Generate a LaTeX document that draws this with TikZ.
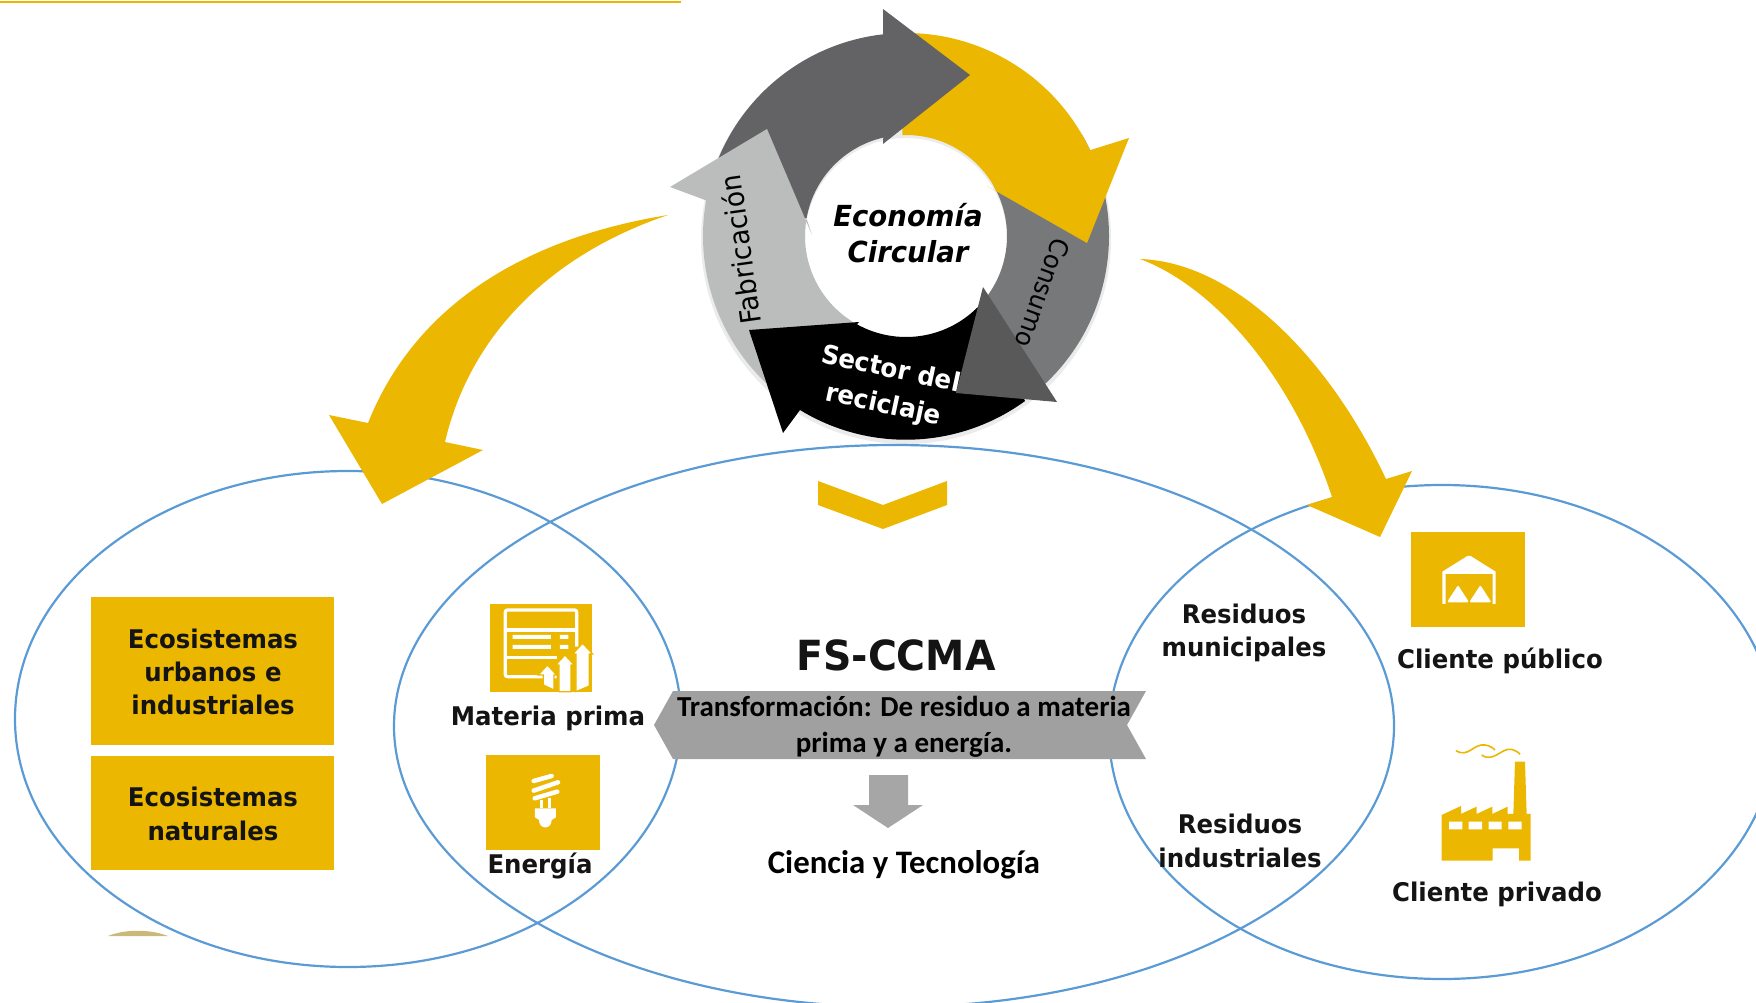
\documentclass[tikz,border=0pt]{standalone}
\usepackage{fontspec}
\setmainfont{DejaVu Sans}[FakeStretch=0.95]
\newfontfamily\calfont{Carlito}
\definecolor{ambar}{HTML}{EBB700}
\definecolor{azul}{HTML}{5B9BD5}
\definecolor{grisosc}{HTML}{636366}
\definecolor{grismed}{HTML}{77787A}
\definecolor{grisclr}{HTML}{BBBCBC}
\definecolor{grispun}{HTML}{595959}
\definecolor{grisban}{HTML}{A0A0A0}
\tikzset{%
    elip/.style={draw=azul, line width = 2.2pt},
    caja/.style={fill=ambar},
    lab/.style={inner sep=0pt, align=center, text=black!92, font=\bfseries\fontsize{25.7}{33.2}\selectfont},
    cal/.style={inner sep=0pt, align=center, font=\calfont\bfseries\fontsize{29}{36.5}\selectfont},
    ani/.style={inner sep=0pt, align=center, font=\fontsize{28}{32}\selectfont},
    ico/.style={draw=white, line width=3.2pt, line join=round},
    fle/.style={fill=white, draw=ambar, line width=1.2pt},
}
\begin{document}
\begin{tikzpicture}[x=1pt,y=-1pt]
    \useasboundingbox (0,0) rectangle (1756,1003);
    \draw [ambar, line width=1.5pt] (0,2) -- (681,2);
    \fill [fill=ambar!50!gray!70] (108,936) .. controls (125,929) and (150,929) .. (168,936) -- cycle;
    % ellipses
    \draw [elip] (348,719) ellipse [x radius=333, y radius=248];
    \draw [elip] (894,726) ellipse [x radius=500, y radius=281];
    \draw [elip] (1442,732) ellipse [x radius=333, y radius=247];
    % ring, origin at its centre
    \begin{scope}[shift={(906,236)},y=1pt]
        \fill [black, opacity=0.08, even odd rule] (0,-3) circle [radius=205] (0,-3) circle [radius=101];
        \fill [grismed] (30:203) arc [start angle=30, end angle=-47, radius=203] -- (-47:101) arc [start angle=-47, end angle=30, radius=101] -- cycle;
        \fill [ambar] (92:203) arc [start angle=92, end angle=25, radius=203] -- (223,98) -- (181,-7) -- (81,50) -- (26:101) arc [start angle=26, end angle=92, radius=101] -- cycle;
        \fill [grisosc] (170:203) arc [start angle=170, end angle=96.5, radius=203] -- (-23,227) -- (64,161) -- (-23,92) -- (103:101) arc [start angle=103, end angle=170, radius=101] -- cycle;
        \fill [grisclr] (238:203) arc [start angle=238, end angle=170, radius=203] -- (-201,36) -- (-236,49) -- (-139,107) -- (-94,1) -- (170:101) arc [start angle=170, end angle=238, radius=101] -- cycle;
        \fill [black] (-106,-174) arc [start angle=238.6, end angle=306, radius=203] -- (315:101) arc [start angle=315, end angle=241, radius=101] -- (-47,-86) -- (-157,-94) -- (-123,-197) -- cycle;
        \fill [grispun] (77,-51) -- (151,-166) -- (50,-157) -- cycle;
    \end{scope}
    \node [ani] (fabricacion) at (740,250) [rotate=98] {Fabricación};
    \node [ani, font=\fontsize{25.5}{30}\selectfont] (consumo) at (1043,293) [rotate=-110] {Consumo};
    \node [lab, text=white, font=\bfseries\fontsize{26}{36}\selectfont, rotate=-12] (sector) at (887,388) {Sector del\\reciclaje};
    \node [lab, text=black, font=\bfseries\itshape\fontsize{29}{35.5}\selectfont] (economia) at (908,233) {Economía\\Circular};
    % yellow arrows
    \fill [ambar] (668,215) .. controls (525,238) and (415,305) .. (368,423) -- (329,415) -- (382,504) -- (483,450) -- (445,442) .. controls (470,335) and (550,255) .. (668,215) -- cycle;
    \fill [ambar] (1140,259) .. controls (1230,262) and (1325,350) .. (1386,479) -- (1412,471) -- (1380,537) -- (1307,505) -- (1332,497) .. controls (1290,370) and (1210,285) .. (1140,259) -- cycle;
    \fill [ambar] (818,481) -- (883,505) -- (947,481) -- (947,505) -- (883,529) -- (818,505) -- cycle;
    % left boxes
    \node [caja, minimum width=243pt, minimum height=148pt, inner sep=0pt] (caja1) at (212.5,671) {};
    \node [caja, minimum width=243pt, minimum height=114pt, inner sep=0pt] (caja2) at (212.5,813) {};
    \node [lab] (urbanos) at (213,672) {Ecosistemas\\urbanos e\\industriales};
    \node [lab] (naturales) at (213,814) {Ecosistemas\\naturales};
    % materia prima icon
    \fill [ambar] (490,604) rectangle (592,692);
    \begin{scope}[shift={(400,580)},x=0.3333pt,y=-0.3333pt]
        \draw [ico, rounded corners=2pt] (470,290) -- (316,290) -- (316,90) -- (530,90) -- (530,200);
        \draw [ico] (316,150) -- (530,150) (316,232) -- (470,232);
        \fill [white] (338,165) rectangle (453,177) (480,165) rectangle (505,177) (338,195) rectangle (453,207) (480,195) rectangle (505,207);
        \draw [fle] (548,190) -- (578,222) -- (568,222) -- (568,318) -- (528,335) -- (528,222) -- (518,222) -- cycle;
        \draw [fle] (495,225) -- (523,255) -- (513,255) -- (513,335) -- (477,335) -- (477,255) -- (467,255) -- cycle;
        \draw [fle] (442,255) -- (470,285) -- (462,285) -- (462,330) -- (430,315) -- (430,285) -- (415,285) -- cycle;
    \end{scope}
    \node [lab] (materia) at (548,718) {Materia prima};
    % energia icon
    \fill [ambar] (486,755) rectangle (600,850);
    \begin{scope}[shift={(400,580)},x=0.3333pt,y=-0.3333pt]
        \draw [white, line width=4.5pt, line cap=round] (401,603) -- (455,588) (401,632) -- (474,607) (404,655) -- (472,635);
        \draw [white, line width=3pt] (425,660) -- (425,685) (450,655) -- (450,685);
        \fill [white] (405,685) -- (468,685) -- (468,712) -- (455,720) .. controls (455,750) and (417,750) .. (417,720) -- (405,712) -- cycle;
    \end{scope}
    \node [lab] (energia) at (540,866) {Energía};
    % centre
    \node [lab, font=\bfseries\fontsize{41.5}{46}\selectfont] (fsccma) at (896,655) {FS-CCMA};
    \fill [grisban] (673,691) -- (1146,691) -- (1127,725) -- (1146,759) -- (673,759) -- (654,725) -- cycle;
    \node [cal] (transforma) at (904,727) {Transformación: De residuo a materia\\prima y a energía.};
    \fill [black!35] (869,775) -- (908,775) -- (908,805) -- (923,805) -- (888,828) -- (853,805) -- (869,805) -- cycle;
    \node [cal, font=\calfont\bfseries\fontsize{32.8}{36}\selectfont] (ciencia) at (904,865) {Ciencia y Tecnología};
    % right side
    \node [lab] (municipales) at (1244,633) {Residuos\\municipales};
    \node [lab] (industriales) at (1240,841) {Residuos\\industriales};
    \fill [ambar] (1411,532) rectangle (1525,627);
    \begin{scope}[shift={(1380,510)},x=0.3333pt,y=-0.3333pt]
        \fill [white] (187,185) -- (262,138) -- (272,138) -- (347,185) -- (347,282) -- (338,282) -- (338,192) -- (197,192) -- (197,282) -- (187,282) -- cycle;
        \fill [white, draw=white, line width=2pt, line join=round] (206,274) -- (234,231) -- (262,274) -- cycle (273,274) -- (301,231) -- (329,274) -- cycle;
        % factory
        \fill [ambar] (185,1052) -- (185,915) -- (243,888) -- (243,912) -- (290,890) -- (290,912) -- (337,890) -- (337,912) -- (383,890) -- (383,912) -- (400,912) -- (405,755) -- (435,755) -- (440,912) -- (452,912) -- (452,1052) -- (417,1052) -- (417,1015) -- (338,1015) -- (338,1052) -- cycle;
        \fill [white] (207,935) rectangle (247,958) (266,935) rectangle (306,958) (326,935) rectangle (365,958) (385,935) rectangle (425,958);
        \draw [ambar, line width=1.6pt] (228,722) .. controls (265,745) and (280,700) .. (315,705) .. controls (330,707) and (340,715) .. (345,720);
        \draw [ambar, line width=1.6pt] (305,735) .. controls (340,760) and (365,712) .. (395,718) .. controls (405,720) and (415,727) .. (420,733);
    \end{scope}
    \node [lab] (publico) at (1500,661) {Cliente público};
    \node [lab] (privado) at (1497,894) {Cliente privado};
\end{tikzpicture}
\end{document}
